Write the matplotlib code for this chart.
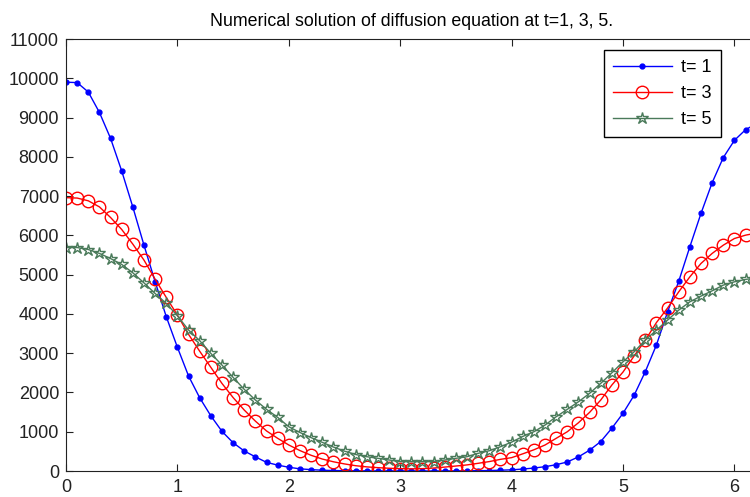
import numpy as np
import matplotlib
matplotlib.use("Agg")
import matplotlib.pyplot as plt

plt.rcParams['font.family'] = ['Liberation Sans', 'DejaVu Sans']

x = np.round(np.arange(0, 6.25, 0.1), 1)

t1 = [9900, 9890, 9650, 9130, 8470, 7640, 6720, 5750, 4820, 3930,
      3150, 2420, 1865, 1405, 1010, 720, 510, 360, 220, 150,
      95, 55, 35, 20, 12, 8, 5, 3, 2, 1,
      1, 1, 1, 1, 2, 3, 5, 8, 12, 20,
      30, 50, 75, 110, 160, 230, 360, 530, 750, 1090,
      1470, 1930, 2530, 3210, 4050, 4830, 5710, 6560, 7340, 7980,
      8420, 8690, 8850]

t3 = [6960, 6950, 6880, 6725, 6455, 6150, 5776, 5370, 4885, 4420,
      3970, 3480, 3050, 2640, 2230, 1870, 1552, 1270, 1020, 832,
      662, 520, 400, 305, 235, 180, 135, 105, 85, 70,
      60, 55, 60, 75, 100, 127, 155, 196, 240, 297,
      340, 437, 540, 662, 832, 1000, 1229, 1493, 1807, 2190,
      2520, 2930, 3330, 3780, 4150, 4562, 4944, 5285, 5540, 5750,
      5920, 6005, 6060]

t5 = [5690, 5690, 5640, 5540, 5410, 5260, 5046, 4790, 4520, 4267,
      3952, 3590, 3320, 2995, 2697, 2384, 2079, 1807, 1570, 1366,
      1127, 980, 850, 730, 610, 505, 420, 364, 323, 280,
      240, 237, 237, 237, 280, 323, 364, 450, 516, 618,
      735, 880, 1000, 1170, 1382, 1570, 1763, 1977, 2231, 2500,
      2781, 3036, 3333, 3588, 3842, 4097, 4308, 4453, 4588, 4733,
      4817, 4878, 4920]

labels = ['t= 1', 't= 3', 't= 5']
title = 'Numerical solution of diffusion equation at t=1, 3, 5.'
xticks = [0, 1, 2, 3, 4, 5, 6]
yticks = list(range(0, 11001, 1000))

fig = plt.figure(figsize=(7.5, 4.97), dpi=100)
ax = fig.add_axes([66/750, 26/497, 690.7/750, 432/497])

ax.plot(x, t1, color='#0000ff', lw=1.0, marker='.', ms=7, label=labels[0])
ax.plot(x, t3, color='#ff0000', lw=1.0, marker='o', ms=9, mfc='none', mew=1.0, label=labels[1])
ax.plot(x, t5, color='#4a7a5a', lw=1.0, marker='*', ms=9, mfc='none', mew=1.0, label=labels[2])

ax.set_xlim(0, 6.2)
ax.set_ylim(0, 11000)
ax.set_xticks(xticks)
ax.set_yticks(yticks)
ax.tick_params(direction='in', length=5, width=0.8, top=True, right=True,
               labelsize=13, colors='#222222')
ax.tick_params(axis='y', pad=5)
ax.tick_params(axis='x', pad=6)
for s in ax.spines.values():
    s.set_linewidth(0.8)
    s.set_color('#222222')

ax.set_title(title, fontsize=12.8, pad=9)

leg = ax.legend(loc='upper right', bbox_to_anchor=(0.948, 0.9745), borderaxespad=0,
                fontsize=13, handlelength=3.3, fancybox=False, framealpha=1,
                edgecolor='black', labelspacing=0.5, borderpad=0.5, handletextpad=0.5)
leg.get_frame().set_linewidth(1.0)

fig.savefig('out.png', dpi=100)
